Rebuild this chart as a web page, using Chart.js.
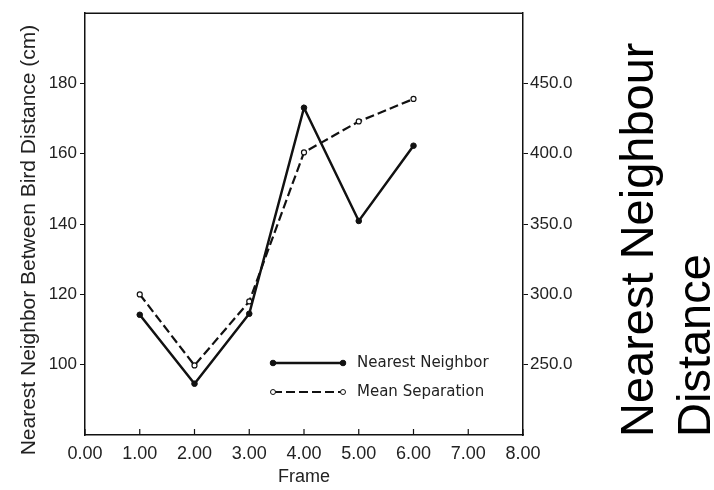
<!DOCTYPE html>
<html lang="en">
<head>
  <meta charset="UTF-8" />
  <title>Nearest Neighbour Distance</title>
  <script src="https://cdn.jsdelivr.net/npm/chart.js"></script>
  <style>
    html, body { margin: 0; padding: 0; background: #fff; }
    #wrap { width: 714px; height: 490px; position: relative; }
  </style>
</head>
<body>
  <div id="wrap"><canvas id="chart" width="714" height="490"></canvas></div>

  <script>
    // data
    const frames = [1, 2, 3, 4, 5, 6];
    const nearestNeighbor = [114.2, 94.6, 114.5, 173.1, 140.9, 162.3];   // left axis (cm)
    const meanSeparation = [300, 249.5, 295, 401, 423, 439];            // right axis
    const xTicks = [0, 1, 2, 3, 4, 5, 6, 7, 8];
    const leftTicks = [100, 120, 140, 160, 180];
    const rightTicks = [250, 300, 350, 400, 450];

    const font = "'Liberation Sans', Arial, sans-serif";
    const leftTitle = "Nearest Neighbor Between Bird Distance (cm)";

    // frame, inward x ticks, legend, left title and the big side title
    const extras = {
      id: "extras",
      afterDraw(chart) {
        const ctx = chart.ctx;
        const a = chart.chartArea;
        const x = chart.scales.x;
        ctx.save();
        ctx.strokeStyle = "#111";
        ctx.lineWidth = 1.5;
        ctx.beginPath();
        ctx.moveTo(a.left, a.top);
        ctx.lineTo(a.right, a.top);
        ctx.stroke();

        ctx.lineWidth = 1.2;
        xTicks.forEach(v => {
          const px = x.getPixelForValue(v);
          ctx.beginPath();
          ctx.moveTo(px, a.bottom);
          ctx.lineTo(px, a.bottom - 6);
          ctx.stroke();
        });

        // legend
        const sets = chart.data.datasets;
        const rows = [363, 392];
        sets.forEach((ds, i) => {
          const y = rows[i];
          ctx.strokeStyle = "#111";
          ctx.lineWidth = ds.borderWidth;
          ctx.setLineDash(ds.borderDash || []);
          ctx.beginPath();
          ctx.moveTo(273, y);
          ctx.lineTo(343, y);
          ctx.stroke();
          ctx.setLineDash([]);
          ctx.lineWidth = 1;
          [273, 343].forEach(px => {
            ctx.beginPath();
            ctx.arc(px, y, ds.pointRadius, 0, Math.PI * 2);
            ctx.fillStyle = ds.pointBackgroundColor;
            ctx.fill();
            ctx.stroke();
          });
          ctx.fillStyle = "#222";
          ctx.font = "15px 'DejaVu Sans', sans-serif";
          ctx.textBaseline = "middle";
          ctx.textAlign = "left";
          ctx.fillText(ds.label, 357, y);
        });

        // left axis title (sits a bit below centre in the original)
        ctx.save();
        ctx.translate(29, 240);
        ctx.rotate(-Math.PI / 2);
        ctx.fillStyle = "#222";
        ctx.font = "21px " + font;
        ctx.textAlign = "center";
        ctx.textBaseline = "middle";
        ctx.fillText(leftTitle, 0, 0);
        ctx.restore();

        // rotated title on the right
        ctx.fillStyle = "#000";
        ctx.font = "47px " + font;
        ctx.textAlign = "left";
        ctx.textBaseline = "alphabetic";
        [["Nearest Neighbour", 653], ["Distance", 710]].forEach(([t, bx]) => {
          ctx.save();
          ctx.translate(bx, 437);
          ctx.rotate(-Math.PI / 2);
          ctx.fillText(t, 0, 0);
          ctx.restore();
        });
        ctx.restore();
      }
    };

    new Chart(document.getElementById("chart"), {
      type: "line",
      data: {
        datasets: [
          {
            label: "Nearest Neighbor",
            data: frames.map((f, i) => ({ x: f, y: nearestNeighbor[i] })),
            yAxisID: "y",
            borderColor: "#111",
            borderWidth: 2.5,
            pointRadius: 2.8,
            pointBorderWidth: 1,
            pointBackgroundColor: "#111",
            pointBorderColor: "#111",
            tension: 0
          },
          {
            label: "Mean Separation",
            data: frames.map((f, i) => ({ x: f, y: meanSeparation[i] })),
            yAxisID: "y2",
            borderColor: "#111",
            borderWidth: 2.2,
            borderDash: [9, 4],
            pointRadius: 2.5,
            pointBackgroundColor: "#fff",
            pointBorderColor: "#111",
            pointBorderWidth: 1.2,
            tension: 0
          }
        ]
      },
      options: {
        responsive: false,
        animation: false,
        layout: { padding: { top: 12, left: 0, right: 0, bottom: 0 } },
        plugins: { legend: { display: false }, tooltip: { enabled: false } },
        scales: {
          x: {
            type: "linear",
            min: 0,
            max: 8,
            afterBuildTicks: s => { s.ticks = xTicks.map(v => ({ value: v })); },
            afterFit: s => { s.height = 55; },
            border: { color: "#111", width: 1.5 },
            grid: { display: true, drawOnChartArea: false, drawTicks: false },
            ticks: {
              color: "#222",
              font: { family: font, size: 18 },
              padding: 8,
              maxRotation: 0,
              callback: v => v.toFixed(2)
            },
            title: {
              display: true,
              text: "Frame",
              color: "#222",
              font: { family: font, size: 18 },
              padding: { top: 0, bottom: 2 }
            }
          },
          y: {
            position: "left",
            min: 80,
            max: 200,
            afterBuildTicks: s => { s.ticks = leftTicks.map(v => ({ value: v })); },
            afterFit: s => { s.width = 85; },
            border: { color: "#111", width: 1.5 },
            grid: { drawOnChartArea: false, tickLength: 5, color: "#111" },
            ticks: {
              color: "#222",
              font: { family: font, size: 17 },
              padding: 3
            }
          },
          y2: {
            position: "right",
            min: 200,
            max: 500,
            afterBuildTicks: s => { s.ticks = rightTicks.map(v => ({ value: v })); },
            afterFit: s => { s.width = 191; },
            border: { color: "#111", width: 1.5 },
            grid: { drawOnChartArea: false, tickLength: 5, color: "#111" },
            ticks: {
              color: "#222",
              font: { family: font, size: 17 },
              padding: 2,
              callback: v => v.toFixed(1)
            }
          }
        }
      },
      plugins: [extras]
    });
  </script>
</body>
</html>
